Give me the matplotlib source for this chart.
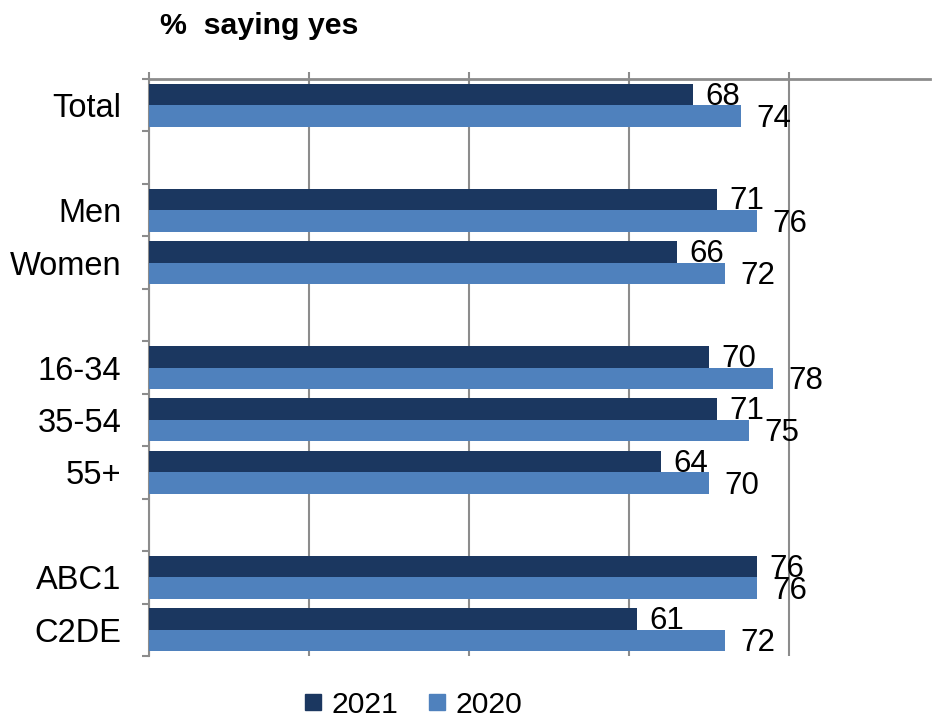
import numpy as np
import matplotlib.pyplot as plt
from matplotlib.lines import Line2D

plt.rcParams['font.family'] = ['Liberation Sans', 'DejaVu Sans']

# data
categories = ["Total", "Men", "Women", "16-34", "35-54", "55+", "ABC1", "C2DE"]
values_2021 = [68, 71, 66, 70, 71, 64, 76, 61]
values_2020 = [74, 76, 72, 78, 75, 70, 76, 72]
series_names = ["2021", "2020"]

# row slot of each category (empty slots separate the groups)
rows = [0, 2, 3, 5, 6, 7, 9, 10]
n_slots = 11

dark = "#1B3760"
light = "#4F81BD"
grey = "#8C8C8C"

fig = plt.figure(figsize=(9.34, 7.18), dpi=100)
ax = fig.add_axes([149 / 934, 1 - 656 / 718, 781 / 934, 577 / 718])

y = np.array(rows, dtype=float)
h = 0.41
ax.barh(y - h / 2, values_2021, height=h, color=dark, zorder=3)
ax.barh(y + h / 2, values_2020, height=h, color=light, zorder=3)

for yi, v in zip(y, values_2021):
    ax.annotate(str(v), (v, yi - h / 2), xytext=(9, -1.5), textcoords="offset points",
                ha="left", va="center", fontsize=22.5, color="black", zorder=4)
for yi, v in zip(y, values_2020):
    ax.annotate(str(v), (v, yi + h / 2), xytext=(11, -2), textcoords="offset points",
                ha="left", va="center", fontsize=22.5, color="black", zorder=4)

ax.set_xlim(0, 781 / 8)
ax.set_ylim(n_slots - 0.5, -0.5)

# x axis on top, gridlines every 20
ax.xaxis.tick_top()
ax.set_xticks([0, 20, 40, 60, 80])
ax.tick_params(axis="x", which="both", length=5, width=1.5, color=grey,
               labeltop=False, labelbottom=False, direction="out")
ax.grid(axis="x", color=grey, linewidth=1.5, zorder=0)

# category labels, ticks at slot boundaries
ax.set_yticks(y)
ax.set_yticklabels(categories, fontsize=23.5)
ax.tick_params(axis="y", which="major", length=0, pad=20)
ax.set_yticks(np.arange(-0.5, n_slots, 1.0), minor=True)
ax.tick_params(axis="y", which="minor", length=5, width=1.5, color=grey, direction="out")

for side in ["right", "bottom"]:
    ax.spines[side].set_visible(False)
ax.spines["top"].set_color(grey)
ax.spines["top"].set_linewidth(2)
ax.spines["left"].set_color(grey)
ax.spines["left"].set_linewidth(1.5)

fig.text(160 / 934, 1 - 26 / 718, "%  saying yes", fontsize=21.8, fontweight="bold",
         ha="left", va="center")

handles = [Line2D([], [], marker="s", linestyle="none", markersize=11,
                  markerfacecolor=c, markeredgecolor=c) for c in (dark, light)]
fig.legend(handles, series_names, loc="center", bbox_to_anchor=(413 / 934, 1 - 705 / 718),
           ncol=2, frameon=False, fontsize=21.7, handlelength=0.6, handletextpad=0.3,
           columnspacing=1.0, borderaxespad=0)

fig.savefig("out.png", dpi=100)
